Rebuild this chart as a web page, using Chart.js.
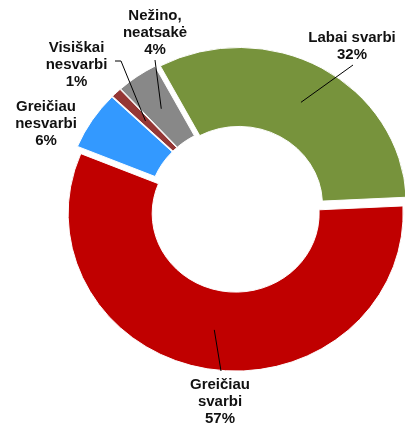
<!DOCTYPE html>
<html><head><meta charset="utf-8">
<script src="https://cdn.jsdelivr.net/npm/chart.js@4"></script>
<style>html,body{margin:0;padding:0;background:#fff;}canvas{display:block;}</style>
</head><body>
<canvas id="c" width="405" height="427" style="width:405px;height:427px"></canvas>
<script>
// ---- data ----
const categories = ['Labai svarbi', 'Greičiau svarbi', 'Greičiau nesvarbi', 'Visiškai nesvarbi', 'Nežino, neatsakė'];
const values = [32, 57, 6, 1, 4];
const labelNameLines = [['Labai svarbi'], ['Greičiau', 'svarbi'], ['Greičiau', 'nesvarbi'], ['Visiškai', 'nesvarbi'], ['Nežino,', 'neatsakė']];

// ---- style ----
const colors = ['#77933C', '#C00000', '#3399FF', '#953735', '#888888'];
const EXPLODE = 5;      // px each slice is pulled out
const SY = 0.94;        // vertical squash of the ring
const LINE_H = 17;
const labelPos = [
  {x: 352, y: 42},
  {x: 220, y: 389},
  {x: 46, y: 111},
  {x: 76.5, y: 52},
  {x: 155, y: 20}
];
const leaderFrom = [
  [[353, 65]],
  [[221, 371]],
  null,
  [[115, 61], [121, 61]],
  [[155, 60]]
];

const explodePlugin = {
  id: 'explode',
  beforeDatasetDraw(chart, args) {
    const ctx = chart.ctx;
    args.meta.data.forEach((arc) => {
      const mid = (arc.startAngle + arc.endAngle) / 2;
      ctx.save();
      ctx.translate(arc.x, arc.y); ctx.scale(1, SY); ctx.translate(-arc.x, -arc.y);
      ctx.translate(Math.cos(mid) * EXPLODE, Math.sin(mid) * EXPLODE);
      arc.draw(ctx);
      ctx.restore();
    });
    return false;
  },
  afterDraw(chart) {
    const ctx = chart.ctx;
    const arcs = chart.getDatasetMeta(0).data;
    ctx.save();
    ctx.strokeStyle = '#000';
    ctx.lineWidth = 1;
    arcs.forEach((arc, i) => {
      const pts = leaderFrom[i];
      if (!pts) return;
      const mid = (arc.startAngle + arc.endAngle) / 2;
      const rm = (arc.innerRadius + arc.outerRadius) / 2 + EXPLODE;
      const px = arc.x + Math.cos(mid) * rm;
      const py = arc.y + Math.sin(mid) * rm * SY;
      ctx.beginPath();
      ctx.moveTo(pts[0][0], pts[0][1]);
      for (let k = 1; k < pts.length; k++) ctx.lineTo(pts[k][0], pts[k][1]);
      ctx.lineTo(px, py);
      ctx.stroke();
    });
    ctx.fillStyle = '#111';
    ctx.font = 'bold 15px "Liberation Sans", Arial, sans-serif';
    ctx.textAlign = 'center';
    ctx.textBaseline = 'alphabetic';
    categories.forEach((c, i) => {
      const lines = labelNameLines[i].concat([values[i] + '%']);
      lines.forEach((t, k) => ctx.fillText(t, labelPos[i].x, labelPos[i].y + k * LINE_H));
    });
    ctx.restore();
  }
};

new Chart(document.getElementById('c'), {
  type: 'doughnut',
  data: {
    labels: categories,
    datasets: [{
      data: values,
      backgroundColor: colors,
      borderColor: '#ffffff',
      borderWidth: 1,
      hoverOffset: 0,
      clip: false
    }]
  },
  options: {
    responsive: false,
    animation: false,
    rotation: -28,
    radius: 167.5,
    cutout: '49.85%',
    layout: {padding: {left: 68, right: 0, top: 0, bottom: 9}},
    plugins: {legend: {display: false}, tooltip: {enabled: false}, title: {display: false}},
    events: []
  },
  plugins: [explodePlugin]
});
</script>
</body></html>
